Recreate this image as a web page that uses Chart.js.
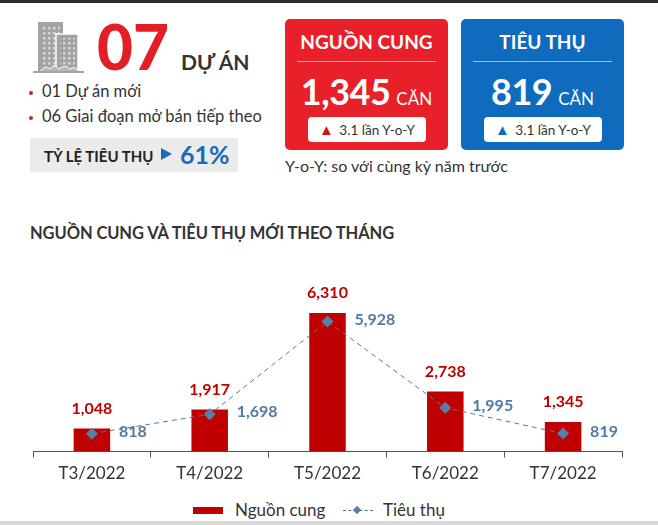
<!DOCTYPE html>
<html lang="vi">
<head>
<meta charset="utf-8">
<script src="https://cdn.jsdelivr.net/npm/chart.js@4.4.1/dist/chart.umd.min.js"></script>
<style>
  body { margin: 0; width: 658px; height: 525px; position: relative; overflow: hidden; background: #fff; font-family: Lato, 'Open Sans', sans-serif; color: #333; }
  .abs { position: absolute; white-space: nowrap; }
  .box { position: absolute; top: 19px; width: 163px; height: 131px; border-radius: 5px; color: #fff; }
  .box .head { position: absolute; left: 0; right: 0; top: 11px; line-height: 24px; text-align: center; font-weight: 700; font-size: 19px; }
  .box .sep { position: absolute; left: 12px; right: 12px; top: 42px; height: 1px; background: rgba(255,255,255,0.6); }
  .box .num { position: absolute; left: 0; right: 0; top: 52px; line-height: 40px; text-align: center; }
  .box .num b { font-size: 36px; letter-spacing: -0.5px; }
  .box .num span { font-size: 17px; margin-left: 6px; }
  .box .pill { position: absolute; left: 23px; top: 98px; width: 118px; height: 25px; line-height: 25px; background: #fff; border-radius: 4px; text-align: center; color: #333; font-size: 13.5px; }
  .box .pill i { font-style: normal; font-size: 15px; margin-right: 2px; }
  .bullet { position: absolute; width: 4px; height: 4px; border-radius: 2px; background: #c0282d; }
</style>
</head>
<body>
<div class="abs" style="left:0;top:0;width:658px;height:3px;background:#2d2d2d"></div>

<svg class="abs" style="left:32px;top:21px" width="54" height="53" viewBox="0 0 54 53">
  <defs>
    <pattern id="win" width="5" height="5" patternUnits="userSpaceOnUse">
      <rect x="1" y="1" width="2.5" height="2.5" fill="#d6d6d6"/>
    </pattern>
  </defs>
  <rect x="6" y="1" width="25" height="50" fill="#a3a3a3"/>
  <rect x="9" y="4" width="19" height="40" fill="url(#win)"/>
  <rect x="24" y="13" width="22" height="38" fill="#a3a3a3" stroke="#fff" stroke-width="1.5"/>
  <rect x="28" y="17" width="15" height="27" fill="url(#win)"/>
  <path d="M8 51 Q13 43 18 48 Q22 42 27 48 Q33 43 38 48 Q43 44 47 51 Z" fill="#b8b8b8" stroke="#fff" stroke-width="1"/>
  <rect x="1" y="50" width="51" height="2" fill="#a3a3a3"/>
</svg>

<div class="abs" style="left:97px;top:15px;font-size:62px;line-height:62px;font-weight:900;color:#e31e24">07</div>
<div class="abs" style="left:181px;top:51px;font-size:21px;line-height:22px;font-weight:700;color:#333">DỰ ÁN</div>

<div class="bullet" style="left:29px;top:91px"></div>
<div class="abs" style="left:42px;top:81px;font-size:16.5px;line-height:20px">01 Dự án mới</div>
<div class="bullet" style="left:29px;top:116px"></div>
<div class="abs" style="left:42px;top:106px;font-size:16.5px;line-height:20px">06 Giai đoạn mở bán tiếp theo</div>

<div class="abs" style="left:30px;top:138px;width:208px;height:34px;background:#ebebeb"></div>
<div class="abs" style="left:44px;top:146px;font-size:15px;line-height:20px;font-weight:700;color:#222">TỶ LỆ TIÊU THỤ</div>
<svg class="abs" style="left:161px;top:148px" width="11" height="12"><path d="M0 0 L11 6 L0 12 Z" fill="#1a6bb8"/></svg>
<div class="abs" style="left:180px;top:140px;font-size:25px;line-height:28px;font-weight:700;color:#1a6bb8">61%</div>

<div class="box" style="left:285px;background:#e8202a">
  <div class="head">NGUỒN CUNG</div>
  <div class="sep"></div>
  <div class="num"><b>1,345</b><span>CĂN</span></div>
  <div class="pill"><i style="color:#d0121b">▲</i> 3.1 lần Y-o-Y</div>
</div>
<div class="box" style="left:461px;background:#0f6bbd">
  <div class="head">TIÊU THỤ</div>
  <div class="sep"></div>
  <div class="num"><b>819</b><span>CĂN</span></div>
  <div class="pill"><i style="color:#0f6bbd">▲</i> 3.1 lần Y-o-Y</div>
</div>
<div class="abs" style="left:285px;top:156px;font-size:16px;line-height:20px">Y-o-Y: so với cùng kỳ năm trước</div>

<div class="abs" style="left:30px;top:222px;font-size:16.5px;line-height:22px;font-weight:700;color:#333;letter-spacing:-0.1px">NGUỒN CUNG VÀ TIÊU THỤ MỚI THEO THÁNG</div>

<div class="abs" style="left:0;top:270px;width:658px;height:220px"><canvas id="supplyChart"></canvas></div>

<div class="abs" style="left:193px;top:507px;width:30px;height:7px;background:#c00000"></div>
<div class="abs" style="left:235px;top:499px;font-size:17px;line-height:22px">Nguồn cung</div>
<div class="abs" style="left:343px;top:510px;width:30px;height:0;border-top:1px dashed #4a6e94"></div>
<div class="abs" style="left:354px;top:507px;width:6px;height:6px;background:#5580aa;transform:rotate(45deg)"></div>
<div class="abs" style="left:383px;top:499px;font-size:17px;line-height:22px">Tiêu thụ</div>

<div class="abs" style="left:0;top:521px;width:658px;height:4px;background:#d9d9d9"></div>

<script>
const months = ['T3/2022', 'T4/2022', 'T5/2022', 'T6/2022', 'T7/2022'];
const supply = [1048, 1917, 6310, 2738, 1345];
const sold = [818, 1698, 5928, 1995, 819];
const seriesNames = ['Nguồn cung', 'Tiêu thụ'];

// nhãn số liệu trên cột và cạnh điểm
const valueLabels = {
    id: 'valueLabels',
    afterDatasetsDraw(chart) {
        const ctx = chart.ctx;
        ctx.save();
        ctx.font = 'bold 16px Lato';
        ctx.textBaseline = 'middle';
        chart.data.datasets.forEach((ds, i) => {
            chart.getDatasetMeta(i).data.forEach((el, j) => {
                const text = ds.data[j].toLocaleString('en-US');
                if (ds.type === 'bar') {
                    ctx.fillStyle = '#c00000';
                    ctx.textAlign = 'center';
                    ctx.fillText(text, el.x, el.y - 20);
                } else {
                    ctx.fillStyle = '#4f7aa3';
                    ctx.textAlign = 'left';
                    ctx.fillText(text, el.x + 27, el.y - 2);
                }
            });
        });
        ctx.restore();
    }
};

function initChart() {
    const ctx = document.getElementById('supplyChart').getContext('2d');
    new Chart(ctx, {
        type: 'bar',
        data: {
            labels: months,
            datasets: [
                {
                    type: 'line',
                    label: seriesNames[1],
                    data: sold,
                    order: 1,
                    borderColor: '#5a7896',
                    borderWidth: 1,
                    borderDash: [5, 4],
                    pointStyle: 'rectRot',
                    pointRadius: 6,
                    pointBackgroundColor: '#5580aa',
                    pointBorderWidth: 0,
                    tension: 0
                },
                {
                    type: 'bar',
                    label: seriesNames[0],
                    data: supply,
                    order: 2,
                    backgroundColor: '#c00000',
                    categoryPercentage: 1,
                    barPercentage: 0.31
                }
            ]
        },
        options: {
            responsive: true,
            maintainAspectRatio: false,
            animation: false,
            layout: { padding: { left: 33, right: 36, top: 0, bottom: 0 } },
            plugins: { legend: { display: false }, tooltip: { enabled: false } },
            scales: {
                x: {
                    grid: { display: true, drawOnChartArea: false, drawTicks: true, tickLength: 6, color: '#555' },
                    border: { display: true, color: '#555', width: 1 },
                    ticks: { color: '#333', padding: 6, font: { family: 'Lato', size: 17 } }
                },
                y: { display: false, min: 0, max: 8000 }
            }
        },
        plugins: [valueLabels]
    });
}

Promise.all([
    document.fonts.load('bold 16px Lato'),
    document.fonts.load('17px Lato')
]).finally(initChart);
</script>
</body>
</html>
